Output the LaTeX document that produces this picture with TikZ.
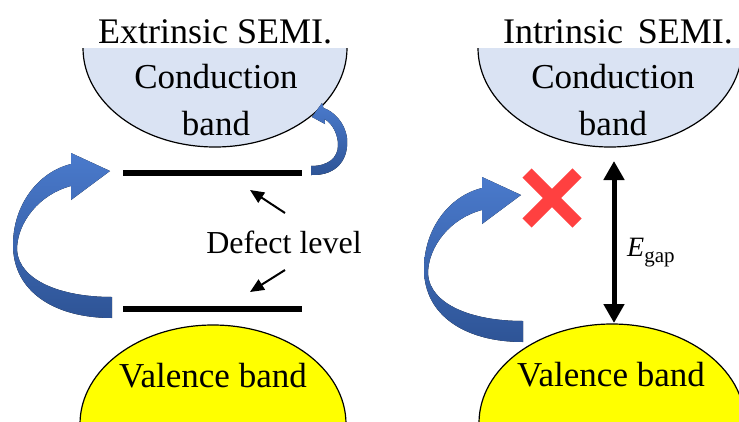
\documentclass[tikz,border=0pt]{standalone}
\usepackage{fontspec}
\setmainfont{Liberation Serif}
\usetikzlibrary{arrows.meta}
\definecolor{cbblue}{RGB}{218,227,243}
\definecolor{vbyellow}{RGB}{255,255,0}
\definecolor{curltop}{RGB}{74,122,204}
\definecolor{curlbot}{RGB}{46,84,150}
\definecolor{xred}{RGB}{255,64,64}
\tikzset{
    x=1pt, y=-1pt, % one unit is one pixel of the sketch, y grows downwards
    cband/.style={draw=black, line width=1.2pt, fill=cbblue}, % conduction band
    vband/.style={draw=black, line width=1.2pt, fill=vbyellow}, % valence band
    level/.style={line width=6pt}, % defect level
    curlarrow/.pic={ % the blue ribbon arrow
        \fill[top color=curltop, bottom color=curlbot]
            (112,318) .. controls (55,318) and (13,292) .. (13,245)
            .. controls (13,205) and (38,172) .. (71,164) -- (71,153) -- (110,171) -- (71,200) -- (71,186)
            .. controls (40,194) and (17,222) .. (17,250)
            .. controls (19,280) and (60,297) .. (112,297) -- cycle;
    },
    }
\begin{document}
\begin{tikzpicture}[title/.style={font=\fontsize{36}{40}\selectfont, anchor=base},
    bandtext/.style={font=\fontsize{35}{47}\selectfont, align=center},
    pointer/.style={line width=2pt, -{Triangle[width=12pt,length=14pt]}},
    gap/.style={line width=5pt, {Triangle[width=20pt,length=19pt]}-{Triangle[width=20pt,length=19pt]}},
    cross/.style={xred, line width=13pt}]
\useasboundingbox (0,0) rectangle (739,421);
\clip (0,0) rectangle (739,421);

% bands
\begin{scope}
\clip (0,48) rectangle (739,421);
\filldraw[cband] (215,48) ellipse [x radius=132, y radius=99];
\filldraw[cband] (610,48) ellipse [x radius=132, y radius=99];
\end{scope}
\filldraw[vband] (213,424) ellipse [x radius=133, y radius=99];
\filldraw[vband] (612,423) ellipse [x radius=133, y radius=99];

\node[title] (tL) at (215,43) {Extrinsic SEMI.};
\node[title] (tR) at (618,43) {Intrinsic\, SEMI.};
\node[bandtext] (cL) at (216,100) {Conduction\\band};
\node[bandtext] (cR) at (613,100) {Conduction\\band};
\node[bandtext, anchor=base] (vL) at (213,387) {Valence band};
\node[bandtext, anchor=base] (vR) at (611,386) {Valence band};

% extrinsic side
\coordinate (lvT1) at (123,173);
\coordinate (lvT2) at (302,173);
\coordinate (lvB1) at (123,309);
\coordinate (lvB2) at (302,309);
\draw[level] (lvT1) -- (lvT2);
\draw[level] (lvB1) -- (lvB2);
\node[font=\fontsize{32}{36}\selectfont, anchor=base] (defect) at (284,253) {Defect level};
\coordinate (pUs) at (285,213);
\coordinate (pUe) at (250,190);
\coordinate (pDs) at (285,270);
\coordinate (pDe) at (250,292);
\draw[pointer] (pUs) -- (pUe);
\draw[pointer] (pDs) -- (pDe);
\pic at (0,0) {curlarrow};
\fill[top color=curltop, bottom color=curlbot]
    (311,175) .. controls (338,176) and (349,158) .. (347,138)
    .. controls (345,122) and (333,111) .. (323.5,108) -- (322,103) -- (312,117) -- (325,124) -- (324.5,119)
    .. controls (333,124) and (338,135) .. (338,145)
    .. controls (338,158) and (328,166) .. (311,166) -- cycle;

% intrinsic side
\pic at (411,24) {curlarrow};
\coordinate (xm) at (552,198);
\draw[cross] ([shift={(-25,-25)}]xm) -- ([shift={(25,25)}]xm);
\draw[cross] ([shift={(-25,25)}]xm) -- ([shift={(25,-25)}]xm);
\coordinate (gapT) at (614,161);
\coordinate (gapB) at (614,323);
\draw[gap] (gapT) -- (gapB);
\node[anchor=base west, inner sep=0pt] (eg) at (627,256)
    {\fontsize{28}{30}\selectfont\textit{E}\raisebox{-6pt}{\fontsize{21}{22}\selectfont gap}};
\end{tikzpicture}
\end{document}
